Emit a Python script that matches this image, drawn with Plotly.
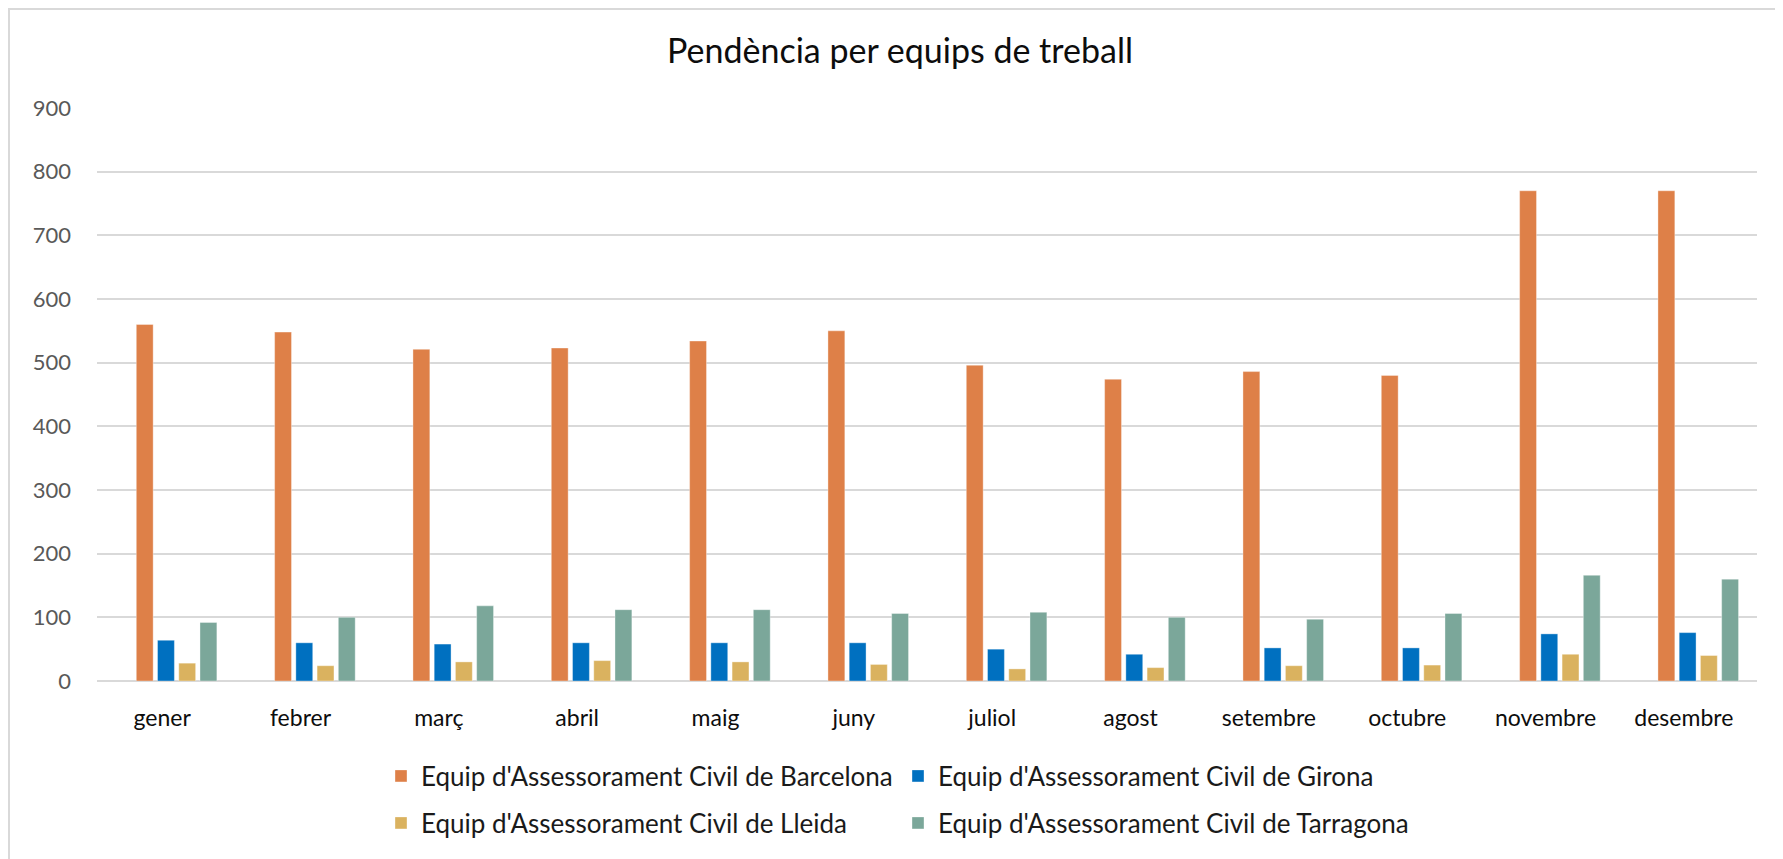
import plotly.graph_objects as go

mesos = ["gener", "febrer", "març", "abril", "maig", "juny", "juliol",
         "agost", "setembre", "octubre", "novembre", "desembre"]

barcelona = [560, 548, 521, 523, 534, 550, 496, 474, 486, 480, 770, 770]
girona = [64, 60, 58, 60, 60, 60, 50, 42, 52, 52, 74, 76]
lleida = [28, 24, 30, 32, 30, 26, 19, 21, 24, 25, 42, 40]
tarragona = [92, 100, 118, 112, 112, 106, 108, 100, 97, 106, 166, 160]

noms = ["Equip d'Assessorament Civil de Barcelona",
        "Equip d'Assessorament Civil de Girona",
        "Equip d'Assessorament Civil de Lleida",
        "Equip d'Assessorament Civil de Tarragona"]
colors = ["#DE8048", "#0070C0", "#DAB25F", "#7BA79A"]

# page body has an 8px margin, so the figure is a bit smaller than the window
W, H = 1775, 851
FONT = "Lato"

# bar placement inside each month slot (Excel draws the group a bit right of centre)
bar_width = 0.122
offsets = [-0.216, -0.0625, 0.091, 0.2445]

fig = go.Figure()
series = [barcelona, girona, lleida, tarragona]
legends = ["legend", "legend", "legend2", "legend2"]
for nom, vals, col, leg, off in zip(noms, series, colors, legends, offsets):
    fig.add_trace(go.Bar(
        x=mesos, y=vals, name=nom, legend=leg,
        width=bar_width, offset=off,
        marker=dict(color=col, line=dict(width=0.6, color="rgba(255,255,255,0.6)")),
    ))

legend_style = dict(
    orientation="h", xref="container", yref="container",
    xanchor="left", yanchor="middle", x=373 / W,
    font=dict(family=FONT, size=26, color="#1a1a1a"),
    entrywidth=472, entrywidthmode="pixels",
    bgcolor="rgba(0,0,0,0)", traceorder="normal",
)

fig.update_layout(
    width=W, height=H,
    margin=dict(l=89, r=26, t=100, b=178),
    paper_bgcolor="white", plot_bgcolor="white",
    barmode="group",
    title=dict(text="Pendència per equips de treball", x=892 / W, xanchor="center",
               y=1 - 43 / H, yref="container", yanchor="middle",
               font=dict(family=FONT, size=34, color="#0d0d0d")),
    legend=dict(legend_style, y=1 - 768 / H),
    legend2=dict(legend_style, y=1 - 815 / H),
    xaxis=dict(
        showgrid=False, showline=False, zeroline=False,
        tickfont=dict(family=FONT, size=23, color="#0d0d0d"),
        ticklabelstandoff=21, ticklabelshift=-4,
    ),
    yaxis=dict(
        range=[0, 900], tickvals=list(range(0, 1000, 100)),
        showgrid=True, gridcolor="#D9D9D9", gridwidth=2,
        zeroline=True, zerolinecolor="#D9D9D9", zerolinewidth=2,
        showline=False,
        tickfont=dict(family=FONT, size=22, color="#595959"),
        ticklabelstandoff=25,
    ),
    shapes=[dict(type="rect", xref="paper", yref="paper",
                 x0=(1 - 89) / 1660, x1=1.2, y0=-0.6, y1=(673 - 1) / 573,
                 line=dict(color="#D9D9D9", width=2), layer="below")],
)

fig.write_html("out.html")
